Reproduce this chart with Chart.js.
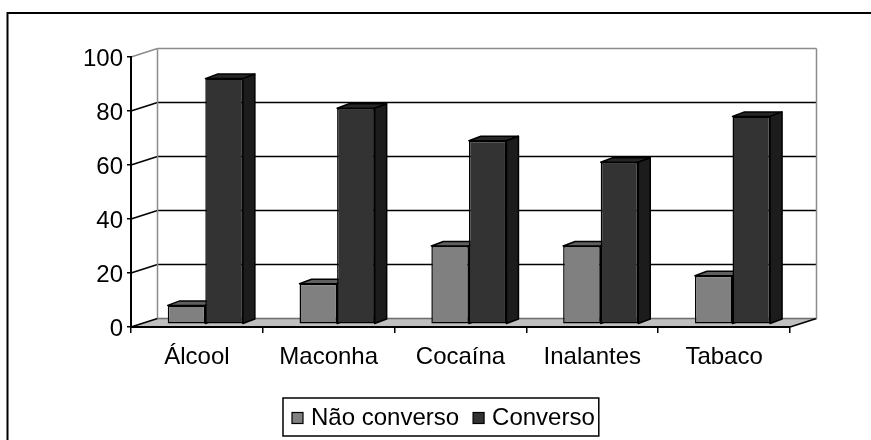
<!DOCTYPE html>
<html lang="pt">
<head>
<meta charset="UTF-8">
<title>Conversa e uso de drogas</title>
<style>
  body { margin: 0; background: #fff; }
  #wrap { width: 871px; height: 440px; }
</style>
</head>
<body>
<div id="wrap"><canvas id="chart" width="871" height="440"></canvas></div>

<script src="https://cdn.jsdelivr.net/npm/chart.js@4.4.1/dist/chart.umd.min.js"></script>
<script>
  const categories = ['Álcool', 'Maconha', 'Cocaína', 'Inalantes', 'Tabaco'];
  const naoConverso = [7, 15, 29, 29, 18];
  const converso = [91, 80, 68, 60, 77];
  const yTicks = [0, 20, 40, 60, 80, 100];

  const FONT = "'Liberation Sans', Arial, sans-serif";
  const FONT_SIZE = 24;
  const LEGEND_FONT_SIZE = 24;

  // oblique offsets of the box (back wall) and of the bars
  const WALL_DX = 26.5, WALL_DY = -8.5;
  const BAR_SHIFT_X = 8.4, BAR_SHIFT_Y = -2.7;
  const BAR_DX = 12, BAR_DY = -4.5;

  const faceColors = {
    '#808080': { top: '#5f5f5f', side: '#555555' },
    '#333333': { top: '#262626', side: '#1c1c1c' }
  };

  function line(ctx, x1, y1, x2, y2, color, w) {
    ctx.beginPath();
    ctx.moveTo(x1, y1);
    ctx.lineTo(x2, y2);
    ctx.strokeStyle = color;
    ctx.lineWidth = w;
    ctx.stroke();
  }

  function poly(ctx, pts, fill) {
    ctx.beginPath();
    ctx.moveTo(pts[0][0], pts[0][1]);
    for (let i = 1; i < pts.length; i++) ctx.lineTo(pts[i][0], pts[i][1]);
    ctx.closePath();
    ctx.fillStyle = fill;
    ctx.fill();
    ctx.strokeStyle = '#000';
    ctx.lineWidth = 1.5;
    ctx.lineJoin = 'round';
    ctx.stroke();
  }

  // back wall, side wall gridlines and floor
  const box3d = {
    id: 'box3d',
    beforeDraw(chart) {
      const { ctx, chartArea: a, scales } = chart;
      const y = scales.y;
      ctx.save();
      // floor
      const fb = a.bottom;
      ctx.beginPath();
      ctx.moveTo(a.left, fb);
      ctx.lineTo(a.right, fb);
      ctx.lineTo(a.right + WALL_DX, fb + WALL_DY);
      ctx.lineTo(a.left + WALL_DX, fb + WALL_DY);
      ctx.closePath();
      ctx.fillStyle = '#c0c0c0';
      ctx.fill();
      line(ctx, a.left + WALL_DX, fb + WALL_DY, a.right + WALL_DX, fb + WALL_DY, '#6e6e6e', 1.5);
      line(ctx, a.left, fb, a.left + WALL_DX, fb + WALL_DY, '#000', 1.5);
      line(ctx, a.right, fb, a.right + WALL_DX, fb + WALL_DY, '#000', 1.5);

      // gridlines on the back and left walls
      yTicks.forEach(v => {
        if (v === 0) return;
        const py = y.getPixelForValue(v);
        const col = v === 100 ? '#8c8c8c' : '#000';
        line(ctx, a.left, py, a.left + WALL_DX, py + WALL_DY, col, 1.5);
        line(ctx, a.left + WALL_DX, py + WALL_DY, a.right + WALL_DX, py + WALL_DY, col, 1.5);
      });
      const top = y.getPixelForValue(100) + WALL_DY;
      line(ctx, a.left + WALL_DX, top, a.left + WALL_DX, fb + WALL_DY, '#8c8c8c', 1.5);
      line(ctx, a.right + WALL_DX, top, a.right + WALL_DX, fb + WALL_DY, '#8c8c8c', 1.5);
      ctx.restore();
    }
  };

  // shifts the bars into depth and adds their top and side faces
  const bars3d = {
    id: 'bars3d',
    beforeDatasetsDraw(chart) {
      const ctx = chart.ctx;
      ctx.save();
      ctx.translate(BAR_SHIFT_X, BAR_SHIFT_Y);
      chart.data.datasets.forEach((ds, di) => {
        const meta = chart.getDatasetMeta(di);
        const fc = faceColors[ds.backgroundColor];
        meta.data.forEach(bar => {
          const { x, y, base, width } = bar.getProps(['x', 'y', 'base', 'width'], true);
          const l = x - width / 2, r = x + width / 2;
          poly(ctx, [[l, y], [r, y], [r + BAR_DX, y + BAR_DY], [l + BAR_DX, y + BAR_DY]], fc.top);
          poly(ctx, [[r, y], [r + BAR_DX, y + BAR_DY], [r + BAR_DX, base + BAR_DY], [r, base]], fc.side);
        });
      });
    },
    afterDatasetsDraw(chart) {
      chart.ctx.restore();
    }
  };

  // legend box and outer frame
  const frame = {
    id: 'frame',
    afterDraw(chart) {
      const ctx = chart.ctx;
      ctx.save();
      line(ctx, 7.5, 13, 871, 13, '#000', 2);
      line(ctx, 7.5, 12, 7.5, 440, '#000', 2);

      ctx.font = LEGEND_FONT_SIZE + 'px ' + FONT;
      ctx.textBaseline = 'middle';
      const bx = 283, by = 398, bh = 38, sq = 11, gap = 8, itemGap = 14;
      let x = bx + 9;
      const cy = by + bh / 2;
      const items = chart.data.datasets.map(ds => ({ label: ds.label, color: ds.backgroundColor }));
      items.forEach(it => {
        ctx.fillStyle = it.color;
        ctx.fillRect(x, cy - sq / 2 + 1, sq, sq);
        ctx.strokeStyle = '#000';
        ctx.lineWidth = 1.2;
        ctx.strokeRect(x, cy - sq / 2 + 1, sq, sq);
        x += sq + gap;
        ctx.fillStyle = '#000';
        ctx.fillText(it.label, x, cy + 1);
        x += ctx.measureText(it.label).width + itemGap;
      });
      ctx.strokeStyle = '#000';
      ctx.lineWidth = 1.5;
      ctx.strokeRect(bx, by, x - itemGap + 4 - bx, bh);
      ctx.restore();
    }
  };

  new Chart(document.getElementById('chart'), {
    type: 'bar',
    data: {
      labels: categories,
      datasets: [
        { label: 'Não converso', data: naoConverso, backgroundColor: '#808080' },
        { label: 'Converso', data: converso, backgroundColor: '#333333' }
      ]
    },
    options: {
      responsive: false,
      animation: false,
      devicePixelRatio: 1,
      layout: { padding: { left: 0, top: 57, right: 81, bottom: 0 } },
      datasets: {
        bar: {
          categoryPercentage: 0.57,
          barPercentage: 1.0,
          borderColor: '#000',
          borderWidth: 1.5,
          borderSkipped: false
        }
      },
      plugins: {
        legend: { display: false },
        tooltip: { enabled: false }
      },
      scales: {
        x: {
          afterFit(scale) { scale.height = 113; },
          grid: { drawOnChartArea: false, drawTicks: true, tickLength: 6, color: '#000', lineWidth: 1.5 },
          border: { display: true, color: '#000', width: 2 },
          ticks: { color: '#000', padding: 10, font: { family: FONT, size: FONT_SIZE } }
        },
        y: {
          min: 0,
          max: 100,
          afterFit(scale) { scale.width = 131; },
          afterBuildTicks(scale) { scale.ticks = yTicks.map(v => ({ value: v })); },
          grid: { drawOnChartArea: false, drawTicks: true, tickLength: 4, color: '#000', lineWidth: 1.5 },
          border: { display: true, color: '#000', width: 2 },
          ticks: { color: '#000', padding: 4, labelOffset: 2, font: { family: FONT, size: FONT_SIZE } }
        }
      }
    },
    plugins: [box3d, bars3d, frame]
  });
</script>
</body>
</html>
